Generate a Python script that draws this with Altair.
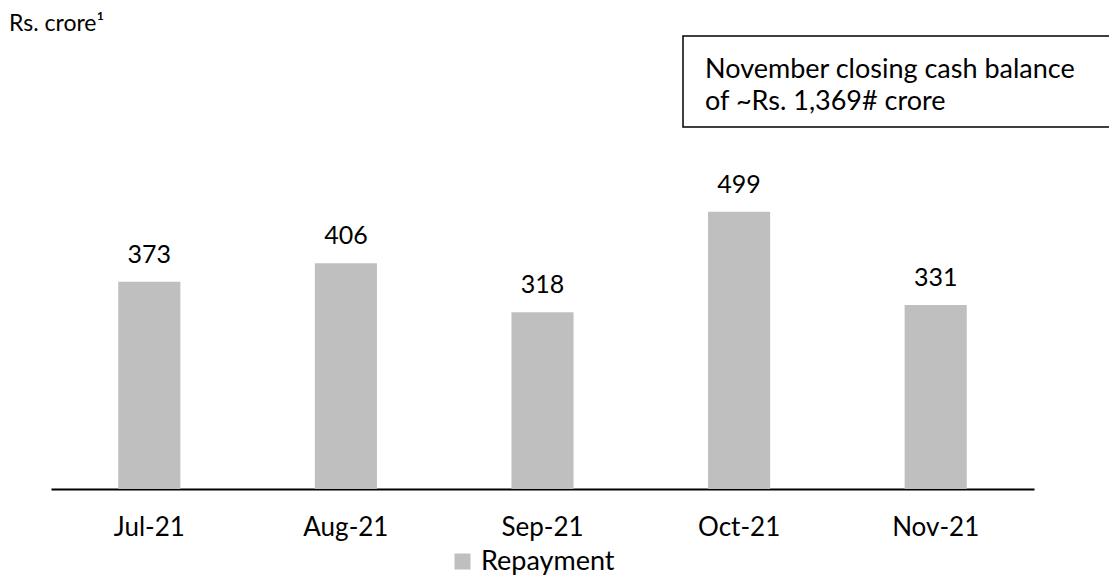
import altair as alt
import pandas as pd

months = ["Jul-21", "Aug-21", "Sep-21", "Oct-21", "Nov-21"]
repayment = [373, 406, 318, 499, 331]
series_name = "Repayment"
unit_label = "Rs. crore\u00b9"
note_lines = ["November closing cash balance", "of ~Rs. 1,369# crore"]

df = pd.DataFrame({"month": months, "value": repayment, "series": [series_name] * len(months)})
note_df = pd.DataFrame({"txt": [note_lines]})
unit_df = pd.DataFrame({"txt": [unit_label]})

FONT = "Lato"
BAR = "#bfbfbf"

x_enc = alt.X(
    "month:N",
    sort=months,
    title=None,
    scale=alt.Scale(paddingInner=0.684, paddingOuter=0.342),
    axis=alt.Axis(
        labelAngle=0,
        labelFontSize=26,
        labelFont=FONT,
        labelColor="black",
        domainColor="black",
        domainWidth=2,
        ticks=False,
        tickSize=0,
        labelPadding=46,
        labelBaseline="alphabetic",
        grid=False,
    ),
)
y_enc = alt.Y("value:Q", scale=alt.Scale(domain=[0, 610]), axis=None)

bars = alt.Chart(df).mark_bar().encode(
    x=x_enc,
    y=y_enc,
    color=alt.Color(
        "series:N",
        scale=alt.Scale(domain=[series_name], range=[BAR]),
        legend=alt.Legend(
            title=None,
            orient="none",
            legendX=398,
            legendY=398,
            symbolType="square",
            symbolSize=256,
            symbolStrokeWidth=0,
            labelFontSize=27,
            labelFont=FONT,
            labelColor="black",
            labelOffset=5,
            padding=0,
        ),
    ),
)

labels = alt.Chart(df).mark_text(
    dy=-19, baseline="alphabetic", fontSize=25, font=FONT, color="black"
).encode(x=x_enc, y=y_enc, text="value:Q")

box = alt.Chart(unit_df).mark_rect(
    fill="white", stroke="black", strokeWidth=1.5
).encode(x=alt.value(632), x2=alt.value(1090), y=alt.value(-114), y2=alt.value(-23))

note = alt.Chart(note_df).mark_text(
    align="left", baseline="alphabetic", fontSize=27, font=FONT, color="black", lineHeight=32
).encode(x=alt.value(654), y=alt.value(-72), text="txt")

unit = alt.Chart(unit_df).mark_text(
    align="left", baseline="alphabetic", fontSize=23, font=FONT, color="black"
).encode(x=alt.value(-42), y=alt.value(-119), text="txt:N")

chart = (
    alt.layer(bars, labels, box, note, unit)
    .properties(
        width=983,
        height=339,
        autosize=alt.AutoSizeParams(type="none"),
        padding={"left": 43, "top": 142, "right": 75, "bottom": 88},
    )
    .configure(font=FONT)
    .configure_view(strokeWidth=0, stroke=None)
)

chart.save("out.html", embed_options={"renderer": "svg", "actions": False})
